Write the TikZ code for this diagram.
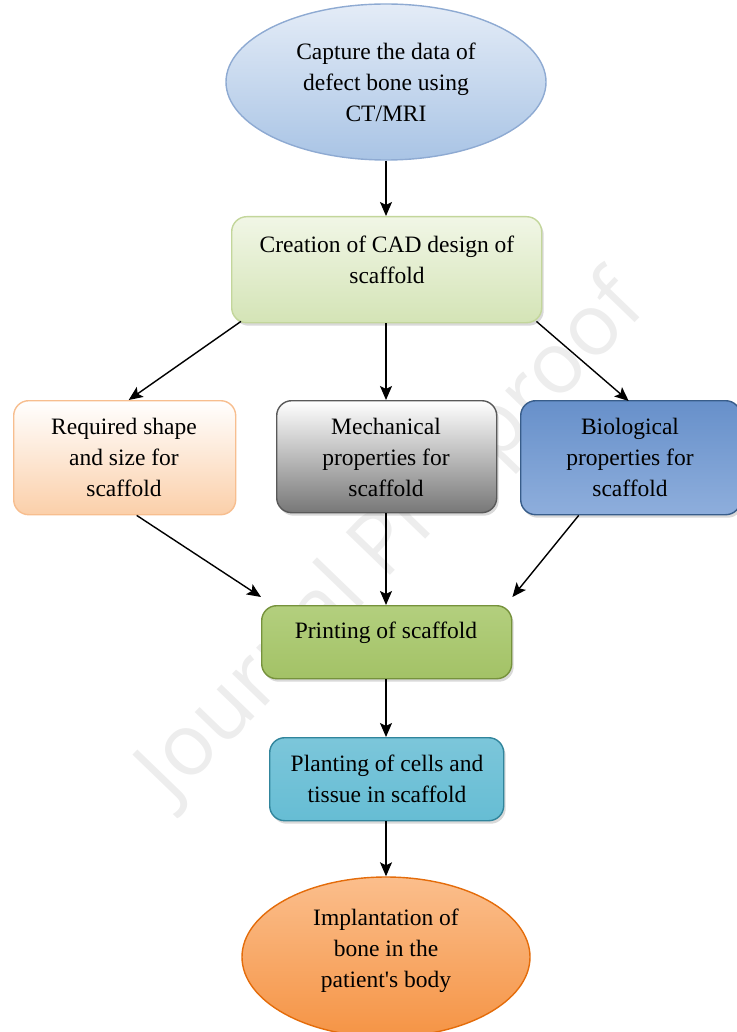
\documentclass[tikz,border=0pt]{standalone}
\usepackage{fontspec}
\setmainfont{Liberation Serif}
\newfontfamily\wmfont{Open Sans}
\usetikzlibrary{arrows.meta,shapes.geometric,shadows}
\definecolor{ovalblueT}{HTML}{E4ECF7}
\definecolor{ovalblueB}{HTML}{A9C4E5}
\definecolor{ovalblueD}{HTML}{8EAAD2}
\definecolor{cadT}{HTML}{F1F6E6}
\definecolor{cadB}{HTML}{D4E4B6}
\definecolor{cadD}{HTML}{C3D69B}
\definecolor{peachT}{HTML}{FFFFFF}
\definecolor{peachB}{HTML}{FBCFA9}
\definecolor{peachD}{HTML}{F7BE8F}
\definecolor{grayT}{HTML}{FFFFFF}
\definecolor{grayB}{HTML}{777777}
\definecolor{grayD}{HTML}{595959}
\definecolor{blueT}{HTML}{6790CA}
\definecolor{blueM}{HTML}{4F81BD}
\definecolor{blueB}{HTML}{8EAEDC}
\definecolor{blueD}{HTML}{385D8A}
\definecolor{grnT}{HTML}{B3CF7E}
\definecolor{grnM}{HTML}{9BBB59}
\definecolor{grnB}{HTML}{A3C266}
\definecolor{grnD}{HTML}{76923C}
\definecolor{tealT}{HTML}{7CC6DA}
\definecolor{tealM}{HTML}{4BACC6}
\definecolor{tealB}{HTML}{66BDD4}
\definecolor{tealD}{HTML}{31859C}
\definecolor{orT}{HTML}{FBBE8C}
\definecolor{orM}{HTML}{F79646}
\definecolor{orB}{HTML}{F59445}
\definecolor{orD}{HTML}{E46C0A}
\tikzset{
  every node/.style={font=\fontsize{23.5}{31}\selectfont, align=center, inner sep=0pt},
  boxbase/.style={draw, line width=1.4pt, rounded corners=15pt, anchor=north west},
  ovalbase/.style={draw, line width=1.4pt, ellipse},
  conn/.style={-{Stealth[length=14pt,width=12pt,inset=3pt]}, line width=1.4pt, black},
  softshadow/.style={drop shadow={shadow xshift=2pt, shadow yshift=-3pt, opacity=0.3, fill=black!50}},
}
\begin{document}
\begin{tikzpicture}[x=1pt,y=-1pt]
\useasboundingbox (0,0) rectangle (736,1032);
% watermark
\node[font=\wmfont\fontsize{86}{86}\selectfont, text=black!7, rotate=46] (wm) at (394,540) {Journal Pre-proof};
% top ellipse
\node[ovalbase, draw=ovalblueD, top color=ovalblueT, bottom color=ovalblueB, minimum width=320pt, minimum height=156pt] (cap) at (386,82) {};
\node (capt) at (386,82) {Capture the data of\\defect bone using\\CT/MRI};
% CAD box
\node[boxbase, draw=cadD, top color=cadT, bottom color=cadB, minimum width=310pt, minimum height=106pt, softshadow] (cad) at (231,216) {};
\node (cadt) at (387,260) {Creation of CAD design of\\scaffold};
% three boxes
\node[boxbase, draw=peachD, top color=peachT, bottom color=peachB, minimum width=222pt, minimum height=114pt] (req) at (13,400) {};
\node (reqt) at (124,457) {Required shape\\and size for\\scaffold};
\node[boxbase, draw=grayD, top color=grayT, bottom color=grayB, minimum width=220pt, minimum height=112pt, softshadow] (mech) at (276,400) {};
\node (mecht) at (386,457) {Mechanical\\properties for\\scaffold};
\node[boxbase, draw=blueD, top color=blueT, middle color=blueM, bottom color=blueB, minimum width=220pt, minimum height=114pt, softshadow] (bio) at (520,400) {};
\node (biot) at (630,457) {Biological\\properties for\\scaffold};
% printing
\node[boxbase, draw=grnD, top color=grnT, middle color=grnM, bottom color=grnB, minimum width=250pt, minimum height=73pt, softshadow] (prt) at (261,605) {};
\node (prtt) at (386,633) {Printing of scaffold};
% planting
\node[boxbase, draw=tealD, top color=tealT, middle color=tealM, bottom color=tealB, minimum width=234pt, minimum height=83pt, softshadow] (plt) at (269,737) {};
\node (pltt) at (387,779) {Planting of cells and\\tissue in scaffold};
% bottom ellipse
\node[ovalbase, draw=orD, top color=orT, middle color=orM, bottom color=orB, minimum width=288pt, minimum height=160pt] (imp) at (386,957) {};
\node (impt) at (386,951) {Implantation of\\bone in the\\patient\textquotesingle s body};
% connectors
\draw[conn] (cap.south) -- (cap.south |- cad.north);
\draw[conn] (cad.south west) ++(10,-2) coordinate (c1) -- ([xshift=4pt]req.north);
\draw[conn] (cap.south |- cad.south) -- (cap.south |- mech.north);
\draw[conn] (cad.south east) ++(-6,-2) coordinate (c2) -- ([xshift=-2pt,yshift=-1pt]bio.north);
\draw[conn] ([xshift=12pt]req.south) -- ([yshift=8pt]prt.north west);
\draw[conn] (cap.south |- mech.south) -- (cap.south |- prt.north);
\draw[conn] ([xshift=-52pt]bio.south) -- ([yshift=8pt]prt.north east);
\draw[conn] (cap.south |- prt.south) -- (cap.south |- plt.north);
\draw[conn] (cap.south |- plt.south) -- (imp.north);
\end{tikzpicture}
\end{document}
